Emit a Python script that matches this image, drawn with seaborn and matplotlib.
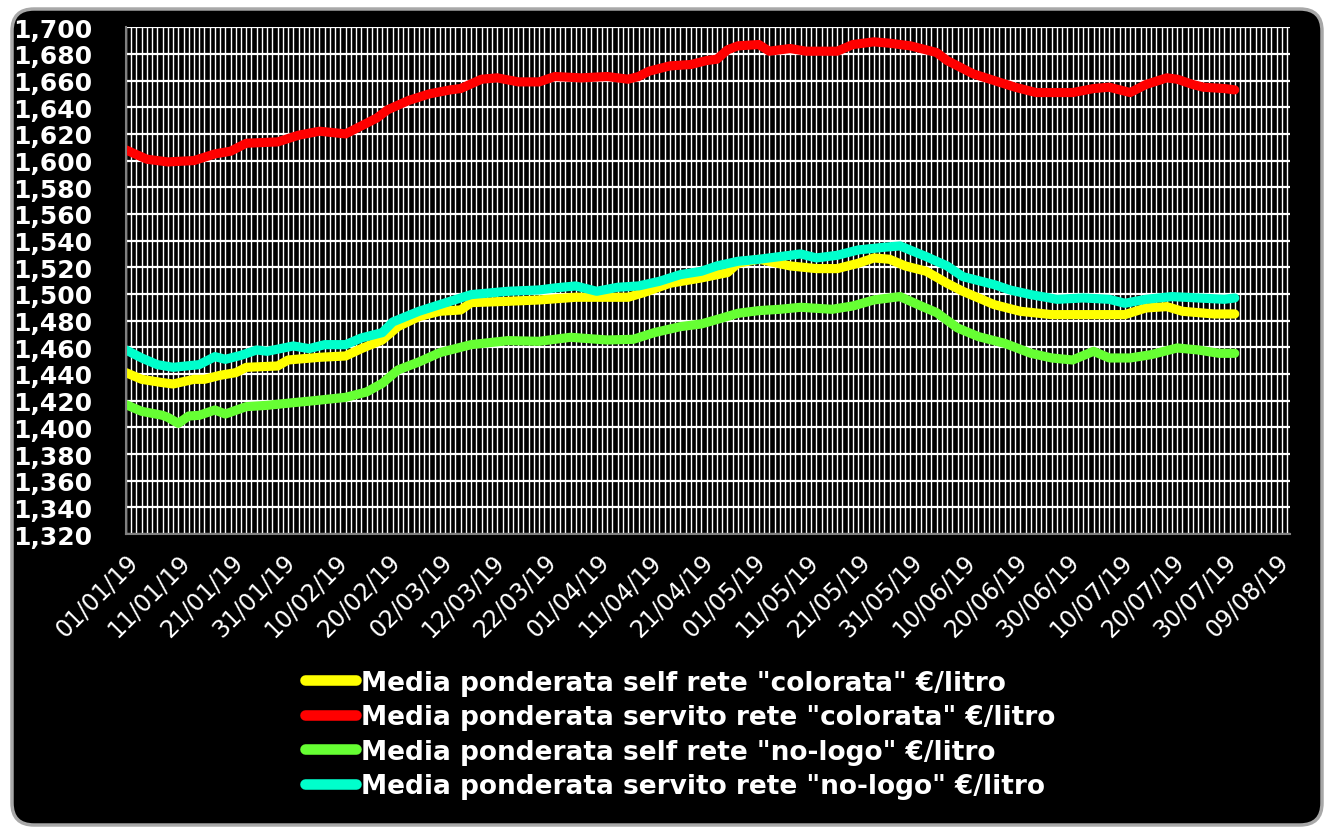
import pandas as pd
import matplotlib
matplotlib.use("Agg")
import matplotlib.pyplot as plt
import matplotlib.dates as mdates
from matplotlib.patches import FancyBboxPatch
from matplotlib.transforms import IdentityTransform
from matplotlib.ticker import FuncFormatter, MultipleLocator
import seaborn as sns

START = "2019-01-01"

# days after 01/01/19 and weighted average price (EUR/litre)
self_col_days = [0, 3, 7, 9, 13, 15, 18, 21, 23, 29, 31, 37, 42, 45, 49, 52, 56, 60, 64, 66, 73, 79, 86,
                 96, 99, 104, 110, 115, 117, 121, 127, 132, 136, 140, 143, 146, 149, 153, 157, 160, 166,
                 171, 177, 183, 191, 195, 199, 202, 208, 212]
self_col = [1.441, 1.436, 1.4335, 1.4325, 1.436, 1.436, 1.439, 1.441, 1.445, 1.446, 1.4505, 1.4525, 1.4535,
            1.459, 1.4655, 1.4755, 1.483, 1.487, 1.488, 1.4935, 1.4945, 1.4955, 1.4975, 1.4975, 1.501, 1.508,
            1.512, 1.516, 1.523, 1.526, 1.521, 1.519, 1.519, 1.523, 1.527, 1.526, 1.521, 1.517, 1.508, 1.502,
            1.492, 1.487, 1.4845, 1.4845, 1.4845, 1.4895, 1.4905, 1.487, 1.485, 1.485]

serv_col_days = [0, 4, 8, 13, 17, 20, 23, 29, 33, 37, 42, 45, 48, 50, 54, 58, 62, 64, 68, 71, 75, 79, 82,
                 87, 92, 96, 98, 100, 104, 108, 111, 113, 115, 117, 121, 123, 127, 130, 136, 139, 143, 146,
                 150, 155, 157, 160, 162, 166, 170, 174, 181, 185, 188, 192, 195, 199, 201, 204, 206, 210, 212]
serv_col = [1.608, 1.601, 1.599, 1.600, 1.605, 1.607, 1.613, 1.614, 1.619, 1.622, 1.620, 1.626, 1.632, 1.638,
            1.645, 1.650, 1.653, 1.654, 1.661, 1.662, 1.659, 1.659, 1.663, 1.662, 1.663, 1.661, 1.663, 1.667,
            1.671, 1.672, 1.675, 1.676, 1.683, 1.686, 1.687, 1.682, 1.684, 1.682, 1.682, 1.687, 1.689, 1.688,
            1.686, 1.681, 1.675, 1.669, 1.665, 1.660, 1.655, 1.651, 1.651, 1.654, 1.655, 1.651, 1.657, 1.662,
            1.661, 1.657, 1.655, 1.654, 1.653]

self_nol_days = [0, 3, 7, 8, 10, 12, 14, 17, 19, 23, 27, 32, 36, 42, 46, 49, 52, 56, 60, 66, 73, 79, 85,
                 92, 97, 101, 106, 110, 114, 117, 121, 125, 129, 135, 139, 143, 146, 148, 152, 155, 159, 163,
                 168, 173, 177, 181, 185, 188, 192, 196, 201, 205, 209, 212]
self_nol = [1.417, 1.412, 1.409, 1.4075, 1.403, 1.4085, 1.409, 1.413, 1.410, 1.4155, 1.4165, 1.4185, 1.420,
            1.4225, 1.4265, 1.433, 1.443, 1.449, 1.456, 1.462, 1.465, 1.4645, 1.4675, 1.4655, 1.466, 1.471,
            1.4755, 1.4775, 1.482, 1.4855, 1.4875, 1.4885, 1.490, 1.4885, 1.491, 1.4955, 1.497, 1.498, 1.491,
            1.486, 1.4745, 1.468, 1.463, 1.4555, 1.452, 1.4505, 1.457, 1.452, 1.452, 1.4545, 1.4595, 1.458,
            1.4555, 1.4555]

serv_nol_days = [0, 3, 6, 9, 14, 17, 19, 22, 25, 27, 32, 35, 38, 42, 45, 49, 51, 56, 60, 66, 73, 79, 82,
                 86, 90, 94, 98, 102, 106, 110, 113, 117, 121, 125, 129, 132, 136, 140, 145, 148, 153, 157,
                 160, 166, 169, 173, 178, 183, 188, 191, 195, 200, 205, 210, 212]
serv_nol = [1.458, 1.452, 1.447, 1.445, 1.447, 1.453, 1.451, 1.454, 1.458, 1.457, 1.461, 1.459, 1.462,
            1.462, 1.467, 1.471, 1.479, 1.487, 1.492, 1.4995, 1.502, 1.503, 1.5045, 1.506, 1.502, 1.505,
            1.506, 1.5095, 1.5145, 1.517, 1.521, 1.5245, 1.526, 1.528, 1.530, 1.527, 1.529, 1.533, 1.535,
            1.536, 1.528, 1.521, 1.513, 1.507, 1.503, 1.4995, 1.496, 1.497, 1.496, 1.493, 1.496, 1.498,
            1.497, 1.496, 1.497]

labels = ['Media ponderata self rete "colorata" €/litro',
          'Media ponderata servito rete "colorata" €/litro',
          'Media ponderata self rete "no-logo" €/litro',
          'Media ponderata servito rete "no-logo" €/litro']
colors = ["#ffff00", "#ff0000", "#66ff33", "#00ffcc"]

frames = []
for lab, d, v in zip(labels,
                     [self_col_days, serv_col_days, self_nol_days, serv_nol_days],
                     [self_col, serv_col, self_nol, serv_nol]):
    frames.append(pd.DataFrame({
        "data": pd.Timestamp(START) + pd.to_timedelta(d, unit="D"),
        "prezzo": v,
        "serie": lab,
    }))
df = pd.concat(frames, ignore_index=True)

sns.set_style("dark")
plt.rcParams["font.family"] = ["DejaVu Sans"]

fig = plt.figure(figsize=(13.26, 8.29), dpi=100, facecolor="white")
# rounded black chart area
fig.patches.append(FancyBboxPatch((12, 3), 1310, 816, boxstyle="round,pad=0,rounding_size=22",
                                  transform=IdentityTransform(), facecolor="black",
                                  edgecolor="#a8a8a8", linewidth=2.5, zorder=-10))

ax = fig.add_axes([0.095, 0.3546, 0.878, 0.6114])
ax.set_facecolor("black")
ax.set_axisbelow(True)

sns.lineplot(data=df, x="data", y="prezzo", hue="serie", hue_order=labels,
             palette=dict(zip(labels, colors)), linewidth=6.6, ax=ax,
             solid_capstyle="round", solid_joinstyle="round")

start = pd.Timestamp(START)
ax.set_xlim(start, start + pd.Timedelta(days=222.6))
ax.set_ylim(1.32, 1.70)

major_dates = [start + pd.Timedelta(days=10 * i) for i in range(23)]
ax.set_xticks(major_dates)
ax.xaxis.set_minor_locator(mdates.DayLocator())
ax.xaxis.set_major_formatter(mdates.DateFormatter("%d/%m/%y"))
ax.yaxis.set_major_locator(MultipleLocator(0.02))
ax.yaxis.set_major_formatter(FuncFormatter(lambda v, p: f"{v:.3f}".replace(".", ",")))

ax.grid(axis="x", which="both", color="white", linewidth=1.0)
ax.grid(axis="y", which="major", color="white", linewidth=1.6)

ax.tick_params(axis="x", which="major", colors="#808080", length=8, width=1.2,
               labelcolor="white", labelsize=17, pad=3)
ax.tick_params(axis="x", which="minor", length=0)
ax.tick_params(axis="y", colors="#808080", length=8, width=1.2, labelcolor="white",
               labelsize=18, pad=16)
for t in ax.get_yticklabels():
    t.set_fontweight("bold")
for t in ax.get_xticklabels():
    t.set_rotation(45)
    t.set_ha("right")
    t.set_rotation_mode("anchor")

for side in ["top", "right"]:
    ax.spines[side].set_visible(False)
for side in ["left", "bottom"]:
    ax.spines[side].set_color("#808080")
    ax.spines[side].set_linewidth(1.5)
ax.set_xlabel("")
ax.set_ylabel("")

handles, labs = ax.get_legend_handles_labels()
leg = ax.legend(handles, labs, loc="upper left", bbox_to_anchor=(0.2303, 0.191),
                bbox_transform=fig.transFigure, frameon=False, handlelength=1.9,
                handletextpad=0.22, labelspacing=0.32, borderpad=0, borderaxespad=0,
                prop={"weight": "bold", "size": 19})
for h in leg.get_lines():
    h.set_linewidth(7.6)
    h.set_solid_capstyle("round")
for t in leg.get_texts():
    t.set_color("white")

fig.savefig("out.png", dpi=100, facecolor="white")
